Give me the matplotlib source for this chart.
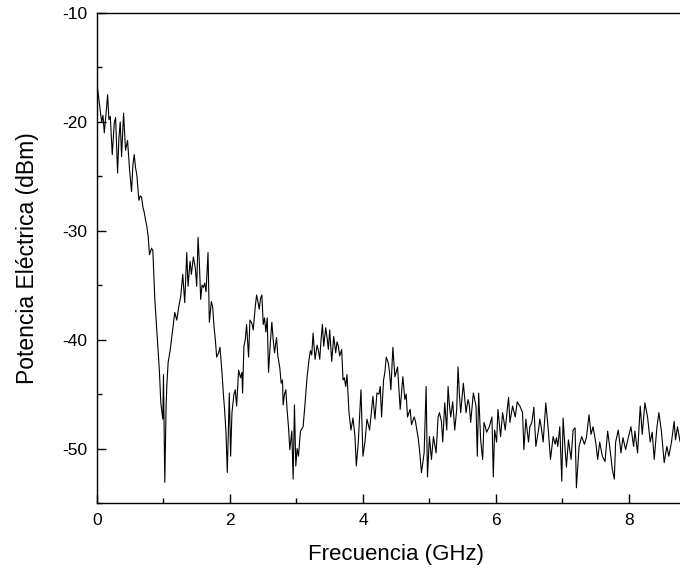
import matplotlib
matplotlib.use("Agg")
import matplotlib.pyplot as plt
from matplotlib.ticker import MultipleLocator

# Spectrum, split by frequency band
freq_a = [0.00, 0.04, 0.07, 0.09, 0.11, 0.14, 0.16, 0.18, 0.20, 0.23, 0.26, 0.28,
          0.31, 0.33, 0.35, 0.37, 0.40, 0.43, 0.46, 0.49, 0.52, 0.54, 0.56, 0.58,
          0.60, 0.63, 0.65, 0.67, 0.69, 0.71, 0.73, 0.75, 0.77, 0.79, 0.82, 0.84,
          0.87, 0.89, 0.92, 0.94, 0.96, 0.99, 1.00, 1.02, 1.04, 1.05, 1.07, 1.10,
          1.12, 1.15, 1.17, 1.20, 1.23, 1.26, 1.29, 1.32, 1.35, 1.37, 1.40, 1.42,
          1.45, 1.48, 1.50, 1.52, 1.54, 1.56, 1.58, 1.60, 1.62, 1.64, 1.67, 1.69,
          1.72, 1.74, 1.76, 1.78, 1.80, 1.83, 1.85, 1.88, 1.90, 1.92, 1.94, 1.96,
          1.99]
pow_a = [-16.5, -18.5, -20.0, -19.4, -21.0, -19.0, -17.5, -19.8, -19.5, -23.0, -20.1, -19.6,
         -24.7, -21.5, -20.0, -23.2, -19.2, -22.6, -21.7, -24.4, -26.4, -24.0, -23.0, -24.2,
         -24.9, -27.2, -26.8, -26.9, -27.8, -28.3, -29.0, -29.6, -30.5, -32.2, -31.6, -31.8,
         -36.3, -38.2, -40.9, -43.0, -45.8, -47.3, -43.2, -53.1, -46.0, -44.3, -42.1, -41.0,
         -40.0, -38.5, -37.5, -38.2, -37.0, -36.0, -34.0, -36.6, -32.0, -35.1, -32.8, -34.0,
         -32.4, -33.5, -35.1, -30.6, -33.0, -36.3, -35.0, -35.2, -34.8, -35.6, -32.0, -38.4,
         -36.5, -37.0, -38.8, -40.0, -41.6, -41.2, -40.7, -43.0, -44.9, -46.5, -48.5, -52.2,
         -44.9]

freq_b = [2.01, 2.03, 2.06, 2.08, 2.10, 2.13, 2.16, 2.18, 2.19, 2.21, 2.23, 2.25,
          2.28, 2.30, 2.33, 2.35, 2.38, 2.40, 2.42, 2.44, 2.46, 2.48, 2.50, 2.52,
          2.54, 2.56, 2.58, 2.61, 2.63, 2.65, 2.67, 2.70, 2.72, 2.75, 2.77, 2.79,
          2.80, 2.82, 2.84, 2.86, 2.88, 2.90, 2.93, 2.95, 2.97, 2.99, 3.01, 3.03,
          3.06, 3.10, 3.13, 3.16, 3.19, 3.21, 3.23, 3.25, 3.28, 3.31, 3.33, 3.35,
          3.37, 3.39, 3.41, 3.44, 3.46, 3.48, 3.50, 3.53, 3.56, 3.59, 3.61, 3.63,
          3.65, 3.68, 3.70, 3.72, 3.74, 3.76, 3.79, 3.82, 3.85, 3.88, 3.90, 3.93,
          3.97]
pow_b = [-50.7, -46.7, -45.0, -44.6, -46.1, -42.8, -43.5, -43.0, -44.9, -40.6, -40.0, -38.6,
         -41.6, -38.2, -38.5, -39.1, -37.0, -35.9, -36.5, -37.2, -36.2, -35.9, -38.6, -38.0,
         -39.3, -38.0, -43.0, -40.0, -38.4, -40.0, -41.2, -39.8, -41.5, -42.6, -44.0, -43.7,
         -46.0, -45.0, -44.6, -46.5, -48.0, -50.1, -48.4, -52.8, -46.0, -51.6, -50.0, -50.7,
         -48.4, -48.0, -45.8, -43.4, -41.8, -41.0, -41.4, -39.4, -41.8, -40.5, -41.0, -41.8,
         -40.0, -38.6, -40.6, -38.9, -39.8, -40.9, -39.1, -42.0, -39.7, -41.2, -40.2, -40.6,
         -41.5, -40.9, -43.7, -43.5, -44.3, -43.2, -46.7, -48.3, -47.2, -48.9, -51.6, -49.4,
         -44.6]

freq_c = [4.00, 4.03, 4.06, 4.08, 4.10, 4.13, 4.15, 4.18, 4.21, 4.24, 4.26, 4.28,
          4.31, 4.33, 4.35, 4.38, 4.40, 4.42, 4.45, 4.48, 4.50, 4.52, 4.56, 4.60,
          4.63, 4.65, 4.67, 4.71, 4.73, 4.77, 4.79, 4.81, 4.83, 4.85, 4.88, 4.92,
          4.95, 4.97, 5.00, 5.03, 5.06, 5.10, 5.13, 5.15, 5.18, 5.20, 5.23, 5.26,
          5.28, 5.30, 5.32, 5.35, 5.38, 5.41, 5.43, 5.45, 5.47, 5.51, 5.55, 5.58,
          5.60, 5.62, 5.66, 5.70, 5.72, 5.74, 5.77, 5.80, 5.82, 5.84, 5.86, 5.90,
          5.94, 5.96, 5.98]
pow_c = [-50.7, -49.4, -47.3, -47.8, -48.3, -46.5, -45.2, -47.3, -44.9, -45.0, -44.3, -47.1,
         -43.7, -43.0, -41.6, -42.1, -43.0, -44.6, -40.7, -43.4, -43.0, -42.5, -46.4, -43.4,
         -45.5, -45.0, -47.1, -46.4, -47.8, -47.1, -47.5, -48.3, -49.0, -50.1, -52.2, -50.4,
         -44.3, -52.6, -48.9, -51.0, -48.9, -50.4, -47.1, -46.7, -47.5, -49.4, -45.8, -48.3,
         -44.3, -46.0, -47.1, -45.7, -48.3, -46.4, -42.5, -45.0, -46.7, -44.0, -46.7, -45.5,
         -46.0, -47.6, -44.9, -46.1, -50.7, -44.9, -49.2, -51.0, -47.6, -48.0, -48.5, -48.0,
         -47.1, -52.6, -48.3]

freq_d = [6.01, 6.03, 6.07, 6.10, 6.14, 6.17, 6.19, 6.21, 6.25, 6.29, 6.32, 6.36,
          6.40, 6.42, 6.45, 6.49, 6.51, 6.54, 6.57, 6.60, 6.64, 6.66, 6.68, 6.71,
          6.75, 6.79, 6.82, 6.86, 6.89, 6.91, 6.93, 6.96, 6.99, 7.01, 7.04, 7.06,
          7.09, 7.13, 7.16, 7.19, 7.21, 7.25, 7.29, 7.33, 7.36, 7.40, 7.43, 7.46,
          7.50, 7.53, 7.56, 7.60, 7.64, 7.68, 7.71, 7.75, 7.78, 7.80, 7.84, 7.88,
          7.91, 7.95, 7.99, 8.03, 8.07, 8.09, 8.13, 8.17, 8.20, 8.24, 8.28, 8.32,
          8.35, 8.38, 8.42, 8.45, 8.49, 8.53, 8.57, 8.60, 8.64, 8.68, 8.70, 8.73,
          8.77, 8.80, 8.84, 8.88]
pow_d = [-49.4, -46.4, -48.9, -46.7, -48.3, -46.4, -45.3, -47.6, -46.1, -47.1, -45.7, -46.1,
         -46.7, -50.1, -47.3, -49.4, -48.0, -47.6, -46.2, -49.8, -48.3, -47.3, -48.0, -49.4,
         -45.8, -48.5, -51.0, -48.9, -49.6, -49.0, -49.8, -48.0, -53.0, -47.2, -50.1, -51.7,
         -49.2, -51.0, -48.3, -48.1, -53.6, -49.8, -48.9, -49.6, -49.0, -46.9, -48.7, -48.0,
         -49.4, -51.0, -49.4, -50.7, -51.2, -48.4, -49.8, -51.9, -52.8, -49.4, -48.3, -50.4,
         -49.0, -50.1, -49.0, -48.0, -49.8, -48.4, -50.4, -46.1, -48.7, -45.8, -47.1, -49.4,
         -48.5, -51.0, -48.1, -46.7, -48.5, -51.3, -49.8, -50.7, -49.4, -47.5, -49.2, -48.0,
         -49.4, -48.5, -49.0, -48.2]

freq = freq_a + freq_b + freq_c + freq_d
power = pow_a + pow_b + pow_c + pow_d

plt.rcParams["font.family"] = ["Liberation Sans", "DejaVu Sans"]
plt.rcParams["axes.unicode_minus"] = False

fig = plt.figure(figsize=(6.8, 5.71), dpi=100)
# axes runs 0..9 GHz; the right part (past ~8.8 GHz) falls outside the picture
ax = fig.add_axes([0.1426, 0.1191, 0.8801, 0.8581])

ax.plot(freq, power, color="black", linewidth=0.8)

ax.set_xlim(0, 9)
ax.set_ylim(-55, -10)
ax.xaxis.set_major_locator(MultipleLocator(2))
ax.xaxis.set_minor_locator(MultipleLocator(1))
ax.yaxis.set_major_locator(MultipleLocator(10))
ax.yaxis.set_minor_locator(MultipleLocator(5))

ax.tick_params(which="both", direction="in", top=False, right=False, width=1.0)
ax.tick_params(which="major", length=6.5, labelsize=12.5)
ax.tick_params(axis="x", which="major", pad=7.5)
ax.tick_params(axis="y", which="major", pad=7)
ax.tick_params(which="minor", length=3.6)

for side in ["left", "bottom", "top"]:
    ax.spines[side].set_linewidth(1.0)
ax.spines["right"].set_visible(False)

ax.set_xlabel("Frecuencia (GHz)", fontsize=16, labelpad=11)
ax.set_ylabel("Potencia Eléctrica (dBm)", fontsize=16.5, labelpad=17)

fig.savefig("out.png", dpi=100)
